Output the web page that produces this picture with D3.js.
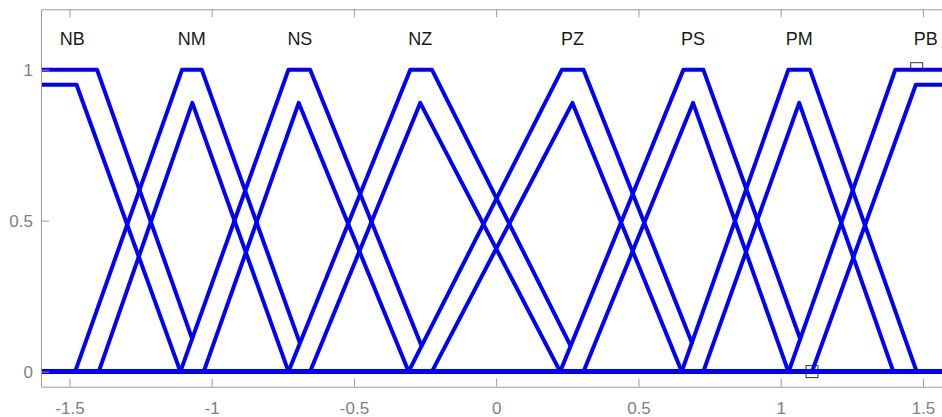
<!DOCTYPE html>
<html>
<head>
<meta charset="utf-8">
<script src="https://cdn.jsdelivr.net/npm/d3@7"></script>
<style>
  html, body { margin: 0; padding: 0; background: #fff; }
  svg { display: block; font-family: "Liberation Sans", Arial, Helvetica, sans-serif; }
</style>
</head>
<body>
<svg id="chart" width="942" height="417"></svg>
<script>
// ---- data ----
const sets = ["NB", "NM", "NS", "NZ", "PZ", "PS", "PM", "PB"];
const labelX = [-1.49, -1.07, -0.69, -0.267, 0.268, 0.692, 1.065, 1.51];
const labelY = 1.1;

// upper membership functions (trapezoids a,b,c,d; height 1)
const upperA = [-1.6, -1.48, -1.11, -0.73, -0.308, 0.225, 0.652, 1.028];
const upperB = [-1.6, -1.104, -0.73, -0.302, 0.231, 0.658, 1.027, 1.403];
const upperC = [-1.403, -1.035, -0.654, -0.226, 0.307, 0.728, 1.103, 1.6];
const upperD = [-1.028, -0.654, -0.226, 0.307, 0.728, 1.11, 1.478, 1.6];
// x where each upper line stops (null = runs to the end)
const upperCut = [-1.069, -0.69, -0.262, 0.262, 0.69, 1.069, null, null];

// lower membership functions (trapezoids a,b,c,d with height h)
const lowerA = [-1.6, -1.397, -1.028, -0.654, -0.226, 0.307, 0.728, 1.11];
const lowerB = [-1.6, -1.068, -0.694, -0.267, 0.268, 0.692, 1.065, 1.475];
const lowerC = [-1.475, -1.068, -0.694, -0.267, 0.268, 0.692, 1.065, 1.6];
const lowerD = [-1.11, -0.73, -0.308, 0.225, 0.652, 1.027, 1.396, 1.6];
const lowerH = [0.95, 0.89, 0.89, 0.89, 0.89, 0.89, 0.89, 0.95];

// small square markers
const markX = [1.478, 1.11];
const markY = [1.0, 0.0];

const xDomain = [-1.6, 1.6];
const yDomain = [-0.05, 1.2];
const xTicks = [-1.5, -1, -0.5, 0, 0.5, 1, 1.5];
const yTicks = [0, 0.5, 1];

// ---- layout ----
const W = 942, H = 417;
const m = { left: 41, top: 9.3, right: -9.4, bottom: 30.3 };
const svg = d3.select("#chart");
const x = d3.scaleLinear().domain(xDomain).range([m.left, W - m.right]);
const y = d3.scaleLinear().domain(yDomain).range([H - m.bottom, m.top]);

const axisCol = "#9a9a9a", textCol = "#808080";

svg.append("clipPath").attr("id", "clip").append("rect")
  .attr("x", x(xDomain[0])).attr("y", y(yDomain[1]))
  .attr("width", x(xDomain[1]) - x(xDomain[0]))
  .attr("height", y(yDomain[0]) - y(yDomain[1]));

function trap(a, b, c, d, h) {
  return t => {
    if (t <= a && a > xDomain[0]) return 0;
    if (t < b) return a === b ? h : h * (t - a) / (b - a);
    if (t <= c) return h;
    if (t < d) return c === d ? h : h * (d - t) / (d - c);
    return d >= xDomain[1] ? h : 0;
  };
}
function pts(a, b, c, d, h, cut) {
  const f = trap(a, b, c, d, h);
  const end = cut == null ? xDomain[1] : cut;
  const xs = [xDomain[0], a, b, c, d, end]
    .filter(v => v >= xDomain[0] && v <= end);
  const u = Array.from(new Set(xs)).sort((p, q) => p - q);
  return u.map(v => [v, f(v)]);
}

const line = d3.line().x(d => x(d[0])).y(d => y(d[1]));
const g = svg.append("g").attr("clip-path", "url(#clip)");

// markers (under lines)
g.selectAll("rect.mk").data(markX).enter().append("rect")
  .attr("class", "mk")
  .attr("x", d => x(d) - 6)
  .attr("y", (d, i) => y(markY[i]) - (i === 0 ? 7 : 6))
  .attr("width", 12).attr("height", (d, i) => i === 0 ? 8 : 12)
  .attr("fill", "none").attr("stroke", "#333").attr("stroke-width", 1);

const lowerData = sets.map((s, i) => pts(lowerA[i], lowerB[i], lowerC[i], lowerD[i], lowerH[i], null));
const upperData = sets.map((s, i) => pts(upperA[i], upperB[i], upperC[i], upperD[i], 1, upperCut[i]));

g.selectAll("path.lower").data(lowerData).enter().append("path")
  .attr("class", "lower").attr("d", line)
  .attr("fill", "none").attr("stroke", "#0000ff").attr("stroke-width", 4)
  .attr("stroke-linejoin", "round");
g.selectAll("path.upper").data(upperData).enter().append("path")
  .attr("class", "upper").attr("d", line)
  .attr("fill", "none").attr("stroke", "#0000ff").attr("stroke-width", 4)
  .attr("stroke-linejoin", "round");

// set labels
svg.selectAll("text.lab").data(sets).enter().append("text")
  .attr("class", "lab")
  .attr("x", (d, i) => x(labelX[i])).attr("y", y(labelY))
  .attr("text-anchor", "middle").attr("dominant-baseline", "central")
  .attr("font-size", 18).attr("fill", "#1a1a1a").text(d => d);

// axes
function styleAxis(sel) {
  sel.select(".domain").attr("stroke", axisCol);
  sel.selectAll(".tick line").attr("stroke", axisCol);
  sel.selectAll(".tick text").attr("fill", textCol).attr("font-size", 17)
     .attr("font-family", "'Liberation Sans', Arial, sans-serif");
}
const fmt = d => d3.format("")(d).replace("\u2212", "-");
svg.append("g").attr("transform", `translate(0,${y(yDomain[0])})`)
  .call(d3.axisBottom(x).tickValues(xTicks).tickFormat(fmt).tickSizeInner(-8).tickSizeOuter(0).tickPadding(15))
  .call(styleAxis);
svg.append("g").attr("transform", `translate(0,${y(yDomain[1])})`)
  .call(d3.axisTop(x).tickValues(xTicks).tickFormat("").tickSizeInner(-8).tickSizeOuter(0))
  .call(styleAxis);
svg.append("g").attr("transform", `translate(${x(xDomain[0])},0)`)
  .call(d3.axisLeft(y).tickValues(yTicks).tickFormat(fmt).tickSizeInner(-8).tickSizeOuter(0).tickPadding(8))
  .call(styleAxis);
svg.selectAll(".tick text").attr("font-size", 17);
</script>
</body>
</html>
